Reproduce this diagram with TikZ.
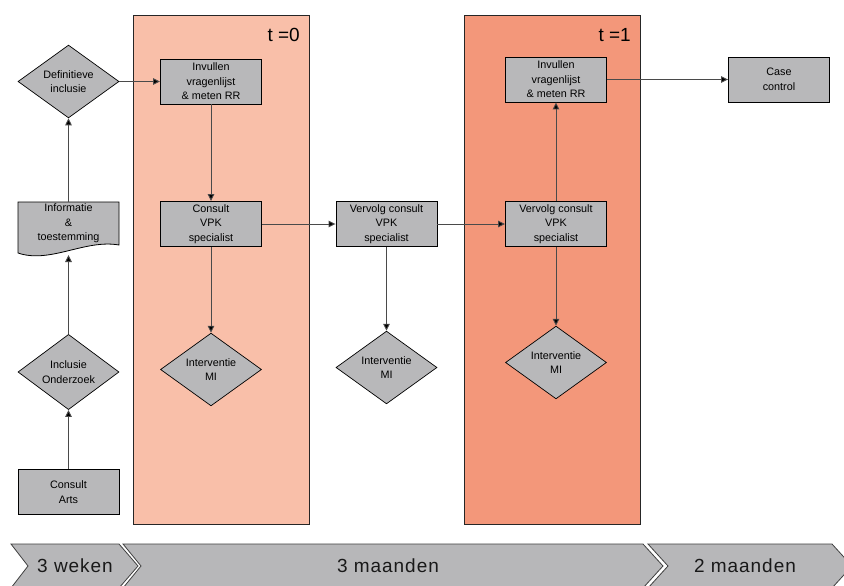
\documentclass[tikz,border=0pt]{standalone}
\usepackage{fontspec}
\setmainfont{Liberation Sans}
\newfontfamily\chevfont[LetterSpace=5]{Liberation Sans}
\usetikzlibrary{shapes.geometric,arrows.meta,calc}
\definecolor{tzero}{HTML}{F9BFA9}
\definecolor{tone}{HTML}{F3977A}
\definecolor{nodegray}{HTML}{B8B8BA}
\definecolor{linegray}{HTML}{4A4A4A}
\definecolor{chevgray}{HTML}{B7B7B9}
\tikzset{
  nodefont/.style={font=\fontsize{10.8}{14.5}\selectfont},
  proc/.style={draw=black, fill=nodegray, line width=0.9pt, minimum width=101pt, minimum height=45pt, inner sep=0pt, align=center, nodefont},
  dia/.style={diamond, draw=black, fill=nodegray, line width=0.7pt, minimum width=101pt, minimum height=65pt, inner sep=0pt, align=center, nodefont},
  doc/.style={minimum width=101pt, minimum height=43pt, inner sep=0pt, align=center, nodefont},
  phase/.style={line width=1pt},
  conn/.style={draw=linegray, line width=0.9pt, -{Triangle[length=7pt,width=6.5pt,fill=black]}},
  chev/.style={draw=black!75, fill=chevgray, line width=0.8pt},
  chevtext/.style={font=\chevfont\fontsize{19}{22}\selectfont, text=black!90},
  tlabel/.style={font=\fontsize{19}{22}\selectfont, anchor=base east, inner sep=0pt}
}
\begin{document}
\begin{tikzpicture}[x=1pt,y=-1pt]
\useasboundingbox (0,0) rectangle (844,586);
\clip (0,0) rectangle (844,586);
\fill[white] (0,0) rectangle (844,586);
% phase boxes
\draw[phase, fill=tzero, draw=black!85] (133,16) rectangle (309,524);
\draw[phase, fill=tone, draw=black!85] (464,16) rectangle (640,524);
\node[tlabel] (t0) at (300,42) {t =0};
\node[tlabel] (t1) at (631,42) {t =1};
% left column
\node[dia] (definitief) at (68.5,81.5) {Definitieve\\inclusie};
\draw[draw=black, fill=nodegray, line width=0.8pt]
  (18,202) -- (119,202) -- (119,245) .. controls (85,239) and (50,264) .. (18,253) -- cycle;
\node[doc] (info) at (68.5,223.5) {Informatie\\\&\\toestemming};
\coordinate (infob) at (68.5,255);
\node[dia] (inclusie) at (68.5,372) {Inclusie\\Onderzoek};
\node[proc] (arts) at (68.5,492) {Consult\\Arts};
% t=0 column
\node[proc] (inv0) at (211,81.5) {Invullen\\vragenlijst\\\& meten RR};
\node[proc] (vpk0) at (211,224) {Consult\\VPK\\specialist};
\node[dia] (mi0) at (211,369.5) {Interventie\\MI};
% middle column
\node[proc] (vv1) at (386.5,224) {Vervolg consult\\VPK\\specialist};
\node[dia] (mi1) at (386.5,367.5) {Interventie\\MI};
% t=1 column
\node[proc] (inv1) at (556,79.5) {Invullen\\vragenlijst\\\& meten RR};
\node[proc] (vv2) at (556,224) {Vervolg consult\\VPK\\specialist};
\node[dia] (mi2) at (556,362.5) {Interventie\\MI};
\node[proc] (case) at (779,79.5) {Case\\control};
% connectors
\draw[conn] (arts) -- (inclusie);
\draw[conn] (inclusie) -- (infob);
\draw[conn] (info.north) -- (definitief);
\draw[conn] (definitief) -- (inv0);
\draw[conn] (inv0) -- (vpk0);
\draw[conn] (vpk0) -- (mi0);
\draw[conn] (vpk0) -- (vv1);
\draw[conn] (vv1) -- (mi1);
\draw[conn] (vv1) -- (vv2);
\draw[conn] (vv2) -- (inv1);
\draw[conn] (vv2) -- (mi2);
\draw[conn] (inv1) -- (case);
% timeline chevrons
\draw[chev] (11,544) -- (119,544) -- (138,566) -- (119,588) -- (11,588) -- (28,566) -- cycle;
\draw[chev] (123,544) -- (643,544) -- (663,566) -- (643,588) -- (123,588) -- (141,566) -- cycle;
\draw[chev] (648,544) -- (832,544) -- (852,566) -- (832,588) -- (648,588) -- (668,566) -- cycle;
\node[chevtext] (w3) at (75,566) {3 weken};
\node[chevtext] (m3) at (388,566) {3 maanden};
\node[chevtext] (m2) at (745,566) {2 maanden};
\end{tikzpicture}
\end{document}
